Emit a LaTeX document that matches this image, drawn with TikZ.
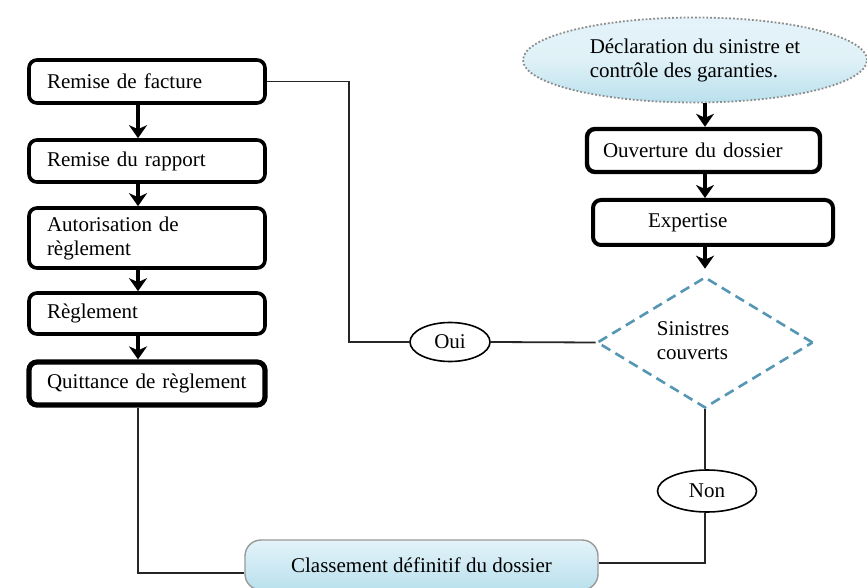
\documentclass[tikz,border=0pt]{standalone}
\usepackage{fontspec}
\setmainfont{Liberation Serif}
\usetikzlibrary{shapes.geometric,arrows.meta,calc}
\definecolor{dashblue}{RGB}{85,150,180}
\definecolor{paleblue}{RGB}{185,224,237}
\definecolor{paletop}{RGB}{228,243,249}
\begin{document}
\begin{tikzpicture}[x=0.5pt,y=-0.5pt,
  font=\fontsize{10.5}{12}\selectfont,
  lbox/.style={draw=black,line width=1.8pt,rounded corners=4pt,align=left,
     inner xsep=9pt,inner ysep=0pt,text width=100pt},
  rbox/.style={draw=black,line width=2.2pt,rounded corners=4pt,align=left,inner ysep=0pt},
  conn/.style={draw=black!85,line width=0.9pt},
  flow/.style={draw=black,line width=2pt,-{Stealth[length=6.5pt,width=9pt,inset=2pt]}},
  choice/.style={draw=black,line width=0.8pt,ellipse,inner sep=0pt},
  cloud/.style={ellipse,draw=black!45,densely dotted,line width=0.9pt,
     top color=paletop,bottom color=paleblue,middle color=white!55!paleblue,inner sep=0pt,align=left},
  endbox/.style={draw=black!40,line width=0.7pt,rounded corners=8pt,
     top color=paletop,bottom color=paleblue,inner sep=0pt},
  decision/.style={diamond,draw=dashblue,line width=1.3pt,dash pattern=on 5pt off 3pt,
     inner sep=0pt}
]
\useasboundingbox (0,0) rectangle (867,588);
\fill[white] (0,0) rectangle (867,588);

\coordinate (xcol) at (138,0);
\coordinate (xmid) at (349,0);

% left column
\node[lbox,minimum height=21.5pt] (f) at (147,81.5) {Remise de facture};
\node[lbox,minimum height=21pt] (r) at (147,161) {Remise du rapport};
\node[lbox,minimum height=30pt] (a) at (147,238) {Autorisation de\\règlement};
\node[lbox,minimum height=20.5pt] (g) at (147,313.5) {Règlement};
\node[lbox,line width=2.6pt,minimum height=21.5pt] (q) at (147,383.5) {Quittance de règlement};

% right column
\node[cloud,minimum width=172pt,minimum height=42.5pt] (d) at (695,60)
  {Déclaration du sinistre et\\contrôle des garanties.};
\node[rbox,minimum height=21.5pt,inner xsep=8pt,text width=100.5pt] (o) at (703.5,150.5) {Ouverture du dossier};
\node[rbox,line width=2pt,minimum height=22.5pt,inner xsep=27.5pt,text width=65pt] (e) at (713,222.5) {Expertise};
\node[decision,minimum width=108pt,minimum height=65.5pt] (s) at (705,342.5)
  {\kern-12pt\begin{tabular}{@{}l@{}}Sinistres\\couverts\end{tabular}};

\node[choice,minimum width=40pt,minimum height=19.5pt] (oui) at (450,342) {Oui};
\node[choice,minimum width=49.5pt,minimum height=21pt] (non) at (707,491) {Non};

\node[endbox,minimum width=176.5pt,minimum height=25pt] (c) at (421.5,565) {Classement définitif du dossier};

% arrows left
\draw[flow] (f.south -| xcol) -- (r.north -| xcol);
\draw[flow] (r.south -| xcol) -- (a.north -| xcol);
\draw[flow] (a.south -| xcol) -- (g.north -| xcol);
\draw[flow] (g.south -| xcol) -- (q.north -| xcol);

% arrows right
\draw[flow] (d.south -| s.north) -- (o.north -| s.north);
\draw[flow] (o.south -| s.north) -- (e.north -| s.north);
\draw[flow,shorten >=3.5pt] (e.south -| s.north) -- (s.north);

% connectors
\draw[conn] (f.east) -- (f.east -| xmid) |- (oui.west);
\draw[conn] (oui.east) -- (s.west);
\draw[conn] (s.south) -- (s.south |- non.north);
\draw[conn] (s.south |- non.south) |- ([yshift=1pt]c.east);
\draw[conn] (q.south -| xcol) |- ([yshift=-4pt]c.west);
\end{tikzpicture}
\end{document}
